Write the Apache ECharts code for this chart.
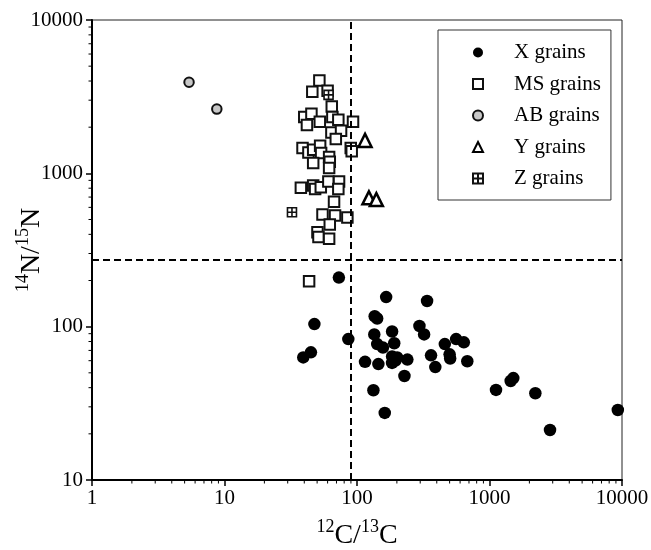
<!DOCTYPE html>
<html>
<head>
<meta charset="utf-8">
<title>Presolar SiC grains: 12C/13C vs 14N/15N</title>
<script src="https://cdn.jsdelivr.net/npm/echarts@6/dist/echarts.min.js"></script>
<style>
  html, body { margin: 0; padding: 0; background: #fff; }
  #chart { width: 651px; height: 550px; }
</style>
</head>
<body>
<div id="chart"></div>
<script>
// Isotope ratios per grain type: [12C/13C, 14N/15N]
const xGrains = [
  [73, 209], [166, 156], [338, 147], [136, 117], [142, 113], [47.7, 104],
  [296, 101], [321, 89], [135, 89], [184, 93], [86, 83], [142, 77],
  [157, 73], [191, 78], [460, 77], [560, 83], [640, 79], [44.9, 68],
  [39.3, 63], [184, 64], [201, 63], [184, 58], [195, 60], [240, 61],
  [115, 59], [145, 57], [362, 65], [500, 66], [505, 62], [680, 59.5],
  [390, 54.5], [228, 47.7], [133, 38.5], [162, 27.4], [1120, 38.7],
  [1445, 44.2], [1513, 46.2], [2218, 36.8], [2863, 21.2], [9300, 28.6]
];
const msGrains = [
  [52, 4030], [46, 3410], [60, 3450], [64.5, 2730], [40, 2330], [45.3, 2445],
  [52.4, 2167], [41.9, 2064], [65.2, 2328], [72.3, 2233], [93.3, 2167],
  [64.1, 1849], [75.8, 1897], [69.2, 1674], [89.7, 1463], [91.2, 1391],
  [38.8, 1463], [43, 1369], [46.7, 1426], [52.7, 1514], [53.6, 1355],
  [61.6, 1276], [62.3, 1191], [46.7, 1168], [61.6, 1083], [37.7, 804],
  [46.7, 832], [48.3, 791], [53.3, 811], [60.8, 883], [73.2, 883],
  [72.3, 791], [67.1, 652], [54.9, 538], [68.3, 530], [84.6, 516],
  [62.3, 464], [50.3, 413], [51.2, 385], [61.6, 374], [43.5, 198]
];
const abGrains = [[5.4, 3930], [8.75, 2625]];
const yGrains = [[115, 1640], [123, 692], [140, 674]];
const zGrains = [[61, 3250], [32.3, 557]];

// Solar reference ratios (dashed guide lines)
const solarC = 89;
const solarN = 272;

// Axis ranges
const xMin = 1, xMax = 10000;
const yMin = 10, yMax = 10000;

// Logarithmic minor tick positions
const xMinorTicks = [
  2, 3, 4, 5, 6, 7, 8, 9,
  20, 30, 40, 50, 60, 70, 80, 90,
  200, 300, 400, 500, 600, 700, 800, 900,
  2000, 3000, 4000, 5000, 6000, 7000, 8000, 9000
];
const yMinorTicks = [
  20, 30, 40, 50, 60, 70, 80, 90,
  200, 300, 400, 500, 600, 700, 800, 900,
  2000, 3000, 4000, 5000, 6000, 7000, 8000, 9000
];

const serif = '"Liberation Serif", "DejaVu Serif", serif';
const zSymbol = 'path://M0,0H10V10H0Z M5,0V10 M0,5H10';

const nameRich = {
  b: { fontSize: 28, fontFamily: serif, color: '#000', lineHeight: 32, verticalAlign: 'bottom' },
  sup: { fontSize: 18, fontFamily: serif, color: '#000', lineHeight: 32, verticalAlign: 'top' }
};

const chart = echarts.init(document.getElementById('chart'), null, { renderer: 'canvas' });

chart.setOption({
  animation: false,
  backgroundColor: '#fff',
  grid: {
    left: 92, right: 29, top: 20, bottom: 70,
    containLabel: false, outerBoundsMode: 'none',
    show: true, borderColor: '#222', borderWidth: 1, backgroundColor: 'transparent'
  },
  legend: {
    orient: 'vertical',
    left: 438, top: 30,
    padding: [12, 10, 11, 34],
    itemGap: 10.5,
    itemWidth: 10, itemHeight: 10,
    borderColor: '#333', borderWidth: 1,
    backgroundColor: '#fff',
    textStyle: { fontFamily: serif, fontSize: 21, color: '#000', lineHeight: 21, padding: [0, 0, 0, 26] },
    data: ['X grains', 'MS grains', 'AB grains', 'Y grains', 'Z grains']
  },
  xAxis: {
    type: 'log', logBase: 10, min: xMin, max: xMax,
    name: '{sup|12}{b|C/}{sup|13}{b|C}',
    nameLocation: 'middle', nameGap: 38, nameMoveOverlap: false,
    nameTextStyle: { rich: nameRich },
    axisLine: { onZero: false, lineStyle: { color: '#000', width: 2 } },
    axisTick: { inside: false, length: 6, lineStyle: { color: '#000', width: 1.5 } },
    axisLabel: {
      margin: 8, color: '#000', fontFamily: serif, fontSize: 21,
      formatter: v => String(Math.round(v))
    },
    splitLine: { show: false }
  },
  yAxis: {
    type: 'log', logBase: 10, min: yMin, max: yMax, splitNumber: 3,
    name: '{sup|14}{b|N/}{sup|15}{b|N}',
    nameLocation: 'middle', nameGap: 46, nameMoveOverlap: false,
    nameTextStyle: { rich: nameRich },
    axisLine: { onZero: false, lineStyle: { color: '#000', width: 2 } },
    axisTick: { inside: false, length: 6, lineStyle: { color: '#000', width: 1.5 } },
    axisLabel: {
      margin: 9, color: '#000', fontFamily: serif, fontSize: 21,
      formatter: v => String(Math.round(v))
    },
    splitLine: { show: false }
  },
  series: [
    {
      name: 'xMinor', type: 'custom', silent: true, z: 1,
      data: xMinorTicks.map(v => [v, yMin]),
      renderItem: (params, api) => {
        const p = api.coord([api.value(0), api.value(1)]);
        return {
          type: 'line',
          shape: { x1: p[0], y1: p[1], x2: p[0], y2: p[1] + 3.5 },
          style: { stroke: '#000', lineWidth: 1 }
        };
      }
    },
    {
      name: 'yMinor', type: 'custom', silent: true, z: 1,
      data: yMinorTicks.map(v => [xMin, v]),
      renderItem: (params, api) => {
        const p = api.coord([api.value(0), api.value(1)]);
        return {
          type: 'line',
          shape: { x1: p[0], y1: p[1], x2: p[0] - 3.5, y2: p[1] },
          style: { stroke: '#000', lineWidth: 1 }
        };
      }
    },
    {
      name: 'X grains', type: 'scatter', data: xGrains,
      symbol: 'circle', symbolSize: 12.5,
      itemStyle: { color: '#000', borderColor: '#000', borderWidth: 0, opacity: 1 },
      markLine: {
        silent: true, symbol: 'none', animation: false,
        label: { show: false },
        lineStyle: { color: '#000', width: 2, type: [7, 4] },
        data: [{ xAxis: solarC }, { yAxis: solarN }]
      }
    },
    {
      name: 'MS grains', type: 'scatter', data: msGrains,
      symbol: 'rect', symbolSize: 10.5,
      itemStyle: { color: '#fff', borderColor: '#111', borderWidth: 2, opacity: 1 }
    },
    {
      name: 'AB grains', type: 'scatter', data: abGrains,
      symbol: 'circle', symbolSize: 9.5,
      itemStyle: { color: '#c8c8c8', borderColor: '#111', borderWidth: 2, opacity: 1 }
    },
    {
      name: 'Y grains', type: 'scatter', data: yGrains,
      symbol: 'triangle', symbolSize: 13,
      itemStyle: { color: '#fff', borderColor: '#000', borderWidth: 2.5, opacity: 1 }
    },
    {
      name: 'Z grains', type: 'scatter', data: zGrains,
      symbol: zSymbol, symbolSize: 9,
      itemStyle: { color: '#fff', borderColor: '#111', borderWidth: 1.6, opacity: 1 }
    }
  ]
});
</script>
</body>
</html>
